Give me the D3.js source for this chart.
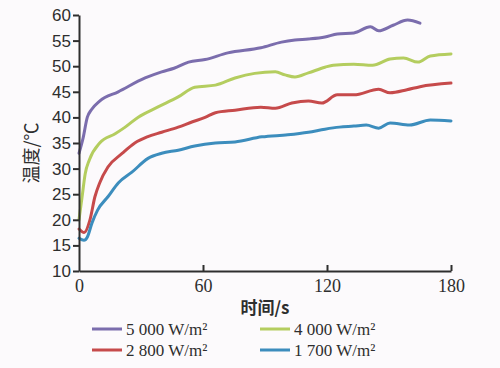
<!DOCTYPE html>
<html>
<head>
<meta charset="utf-8">
<script src="https://cdn.jsdelivr.net/npm/d3@7"></script>
<style>
  html, body { margin: 0; padding: 0; background: #fcfafc; }
  svg { display: block; }
</style>
</head>
<body>
<svg id="chart" width="500" height="368"></svg>
<script>
// ---- data ----
const xTicks = [0, 60, 120, 180];
const yTicks = [10, 15, 20, 25, 30, 35, 40, 45, 50, 55, 60];

const t5000 = [0, 2, 4, 6, 10, 19, 32, 40, 46, 53, 61, 72, 88, 98, 104.5, 111, 119, 125, 133, 141, 145, 152, 159, 165];
const v5000 = [33, 36, 40, 41.5, 43.2, 45, 47.7, 48.9, 49.6, 50.8, 51.3, 52.6, 53.6, 54.7, 55.1, 55.3, 55.7, 56.3, 56.5, 57.7, 56.9, 58, 59, 58.4];

const t4000 = [0, 1.5, 3, 5, 10, 17.5, 22, 28.5, 38, 48, 56, 66, 75.5, 85, 95, 99.7, 104.5, 111, 119, 123, 133, 142, 150.5, 157, 164, 170, 180];
const v4000 = [20, 24.5, 29, 31.7, 35, 36.8, 38, 40, 42, 44, 45.9, 46.3, 47.7, 48.6, 48.9, 48.3, 47.9, 48.7, 49.8, 50.2, 50.4, 50.2, 51.4, 51.6, 50.8, 52, 52.4];

const t2800 = [0, 2.5, 5.3, 7.7, 10, 14, 21, 27, 33, 40, 48, 54.6, 61, 66, 75.5, 88, 95, 103, 111, 117.5, 125, 133, 145, 150.5, 158.7, 165, 180];
const v2800 = [18.2, 17.5, 20, 24.5, 27.2, 30.3, 33, 35, 36.2, 37.1, 38.1, 39.1, 40, 40.9, 41.4, 42, 41.8, 42.8, 43.2, 42.8, 44.4, 44.4, 45.5, 44.8, 45.4, 46, 46.7];

const t1700 = [0, 2.4, 4, 6.3, 9, 14, 19, 25.6, 33.4, 40, 48, 56, 66, 75.5, 88.5, 101, 111, 119, 126, 133, 139, 145, 150.5, 160, 170, 180];
const v1700 = [16.4, 16, 16.6, 19.4, 21.9, 24.5, 27.2, 29.3, 32, 33, 33.6, 34.4, 35, 35.2, 36.2, 36.6, 37.1, 37.7, 38.1, 38.3, 38.5, 37.9, 38.9, 38.5, 39.5, 39.3];

const seriesNames = ["5 000 W/m²", "4 000 W/m²", "2 800 W/m²", "1 700 W/m²"];
const seriesColors = ["#7b6dad", "#b4cd5f", "#c64a4b", "#3c8dbd"];
const seriesT = [t5000, t4000, t2800, t1700];
const seriesV = [v5000, v4000, v2800, v1700];

// ---- layout ----
const svg = d3.select("#chart");
const mLeft = 79, mRight = 451, mTop = 15, mBottom = 271;
const x = d3.scaleLinear().domain([0, 180]).range([mLeft, mRight]);
const y = d3.scaleLinear().domain([10, 60]).range([mBottom, mTop]);
const ink = "#2e2e2e";

// lines
const line = d3.line().x(d => x(d[0])).y(d => y(d[1])).curve(d3.curveMonotoneX);
seriesT.forEach((ts, i) => {
  const pts = ts.map((t, j) => [t, seriesV[i][j]]);
  svg.append("path").attr("d", line(pts)).attr("fill", "none")
    .attr("stroke", seriesColors[i]).attr("stroke-width", 3)
    .attr("stroke-linejoin", "round").attr("stroke-linecap", "round");
});

// y axis
const yAxis = d3.axisLeft(y).tickValues(yTicks).tickSize(6).tickPadding(2).tickSizeOuter(0);
const gy = svg.append("g").attr("transform", `translate(${mLeft},0)`).call(yAxis);
gy.select(".domain").attr("stroke", ink).attr("stroke-width", 2);
gy.selectAll(".tick line").attr("stroke", ink).attr("stroke-width", 2);
gy.selectAll(".tick text").attr("fill", ink)
  .style("font-family", "'Liberation Sans', Arial, sans-serif").style("font-size", "17px");

// x axis (ticks inward)
const xAxis = d3.axisBottom(x).tickValues(xTicks).tickSize(-6).tickPadding(8).tickSizeOuter(0);
const gx = svg.append("g").attr("transform", `translate(0,${mBottom})`).call(xAxis);
gx.select(".domain").attr("stroke", ink).attr("stroke-width", 2);
gx.selectAll(".tick line").attr("stroke", ink).attr("stroke-width", 2)
  .attr("display", d => d === 0 ? "none" : null);
gx.selectAll(".tick text").attr("fill", ink)
  .style("font-family", "'Liberation Serif', 'Times New Roman', serif").style("font-size", "18px");

// axis titles
svg.append("text").attr("transform", "translate(38,153) rotate(-90)")
  .attr("text-anchor", "middle").attr("fill", ink)
  .style("font-family", "'Noto Sans CJK SC', sans-serif").style("font-size", "18px")
  .text("温度/℃");
svg.append("text").attr("x", 265).attr("y", 314)
  .attr("text-anchor", "middle").attr("fill", ink)
  .style("font-family", "'Noto Sans CJK SC', sans-serif").style("font-size", "17px").style("font-weight", "bold")
  .text("时间/s");

// legend
const legPos = [[92, 329], [260, 329], [92, 350], [260, 350]];
seriesNames.forEach((name, i) => {
  const [lx, ly] = legPos[i];
  svg.append("line").attr("x1", lx).attr("x2", lx + 30).attr("y1", ly).attr("y2", ly)
    .attr("stroke", seriesColors[i]).attr("stroke-width", 3);
  svg.append("text").attr("x", lx + 34).attr("y", ly + 6).attr("fill", ink)
    .style("font-family", "'Liberation Serif', 'Times New Roman', serif").style("font-size", "17px")
    .text(name);
});
</script>
</body>
</html>
